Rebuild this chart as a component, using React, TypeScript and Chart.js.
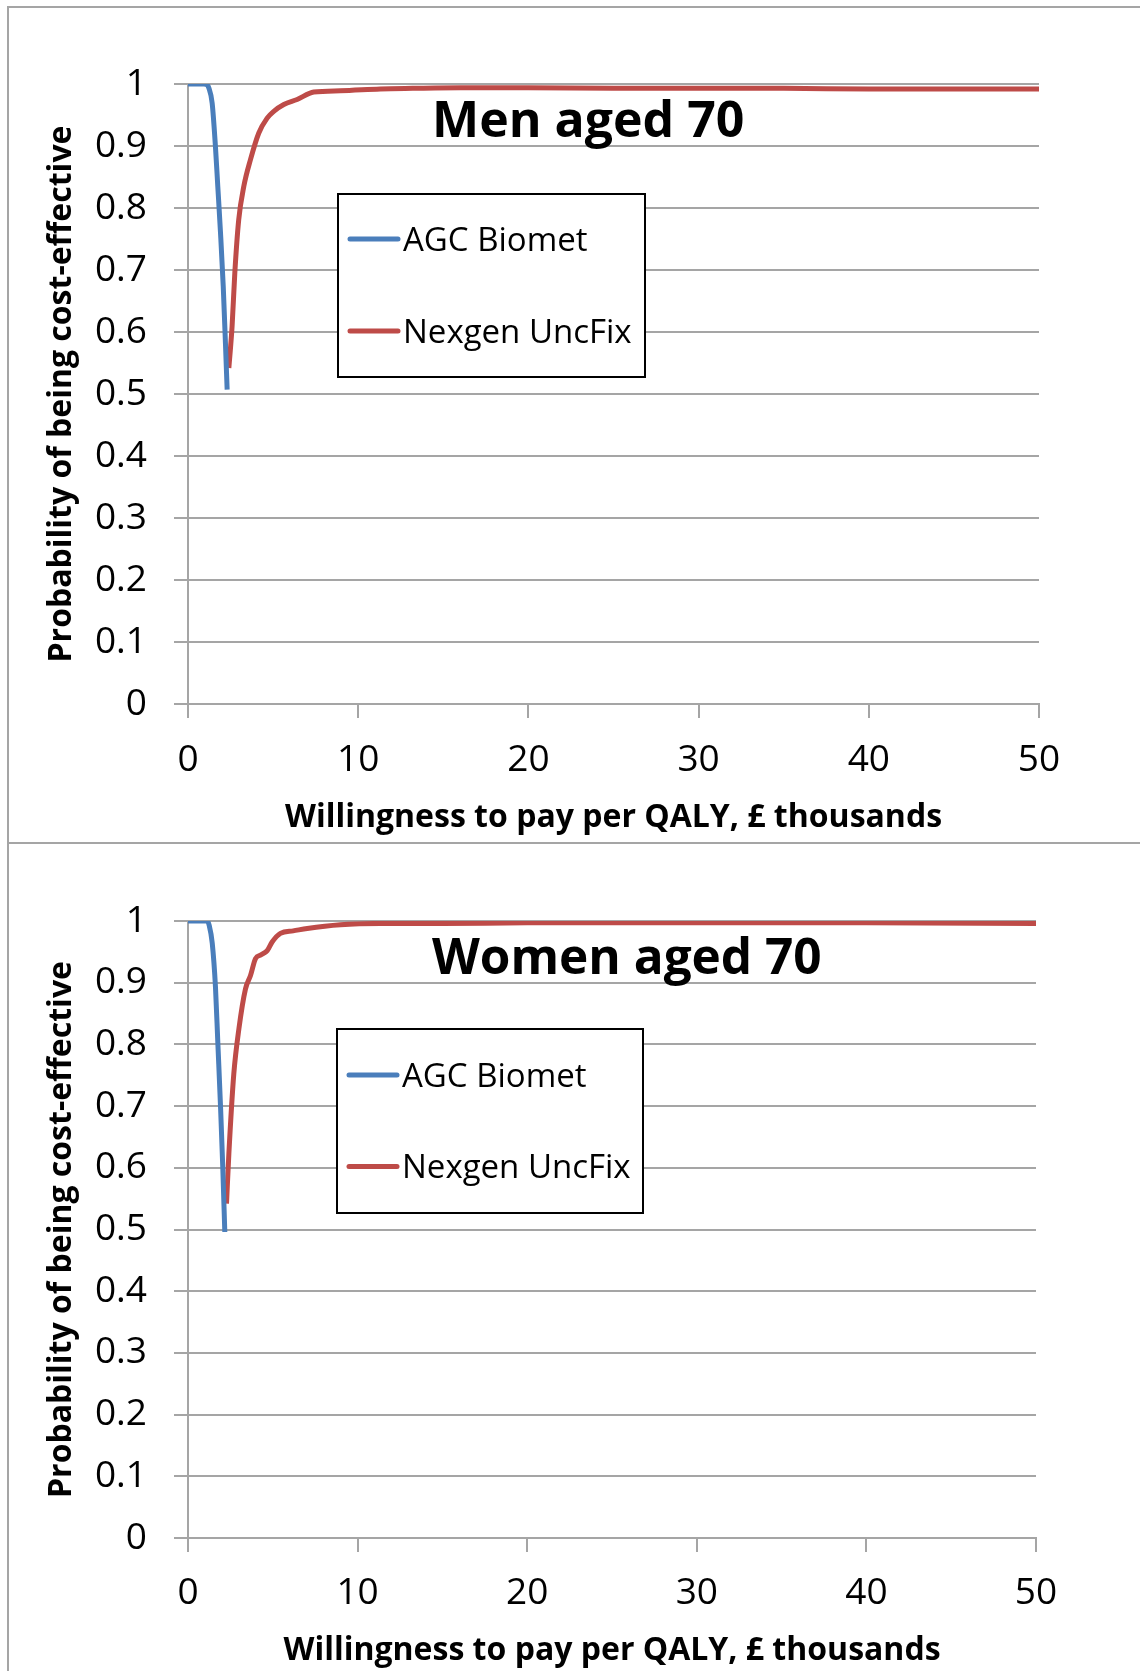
import { useEffect, useRef } from "react";
import { Chart, registerables } from "chart.js";

Chart.register(...registerables);

// ---------- data ----------
const xTicks = [0, 10, 20, 30, 40, 50];
const yTicks = [0, 0.1, 0.2, 0.3, 0.4, 0.5, 0.6, 0.7, 0.8, 0.9, 1];

const seriesNames = ["AGC Biomet", "Nexgen UncFix"];
const seriesColors = ["#4A7EBB", "#BE4B48"];

const xAxisTitle = "Willingness to pay per QALY, £ thousands";
const yAxisTitle = "Probability of being cost-effective";
const panelTitles = ["Men aged 70", "Women aged 70"];

// Men aged 70
const menAgcX = [0, 0.5, 0.93, 1.1, 1.22, 1.42, 1.61, 1.75, 1.91, 2.07, 2.2, 2.3];
const menAgcY = [1, 1, 1, 0.999, 0.994, 0.969, 0.9, 0.835, 0.76, 0.674, 0.582, 0.507];
const menNexX = [2.4, 2.59, 2.75, 2.98, 3.28, 3.67, 4.16, 4.65, 5.04, 5.63, 6.41, 7.39, 8.95, 11.3, 13.2, 16, 20, 25, 30, 35, 40, 45, 50];
const menNexY = [0.542, 0.609, 0.695, 0.781, 0.835, 0.878, 0.921, 0.945, 0.956, 0.967, 0.975, 0.987, 0.989, 0.992, 0.993, 0.994, 0.994, 0.993, 0.993, 0.993, 0.992, 0.992, 0.992];

// Women aged 70
const womenAgcX = [0, 0.5, 1.13, 1.25, 1.43, 1.62, 1.76, 1.92, 2.05, 2.17];
const womenAgcY = [1, 1, 1, 0.993, 0.964, 0.893, 0.802, 0.698, 0.601, 0.496];
const womenNexX = [2.27, 2.41, 2.7, 3.0, 3.39, 3.69, 3.98, 4.3, 4.67, 4.96, 5.45, 6.2, 7.03, 8.99, 11.35, 15, 20, 30, 40, 50];
const womenNexY = [0.542, 0.623, 0.752, 0.825, 0.89, 0.912, 0.939, 0.945, 0.952, 0.966, 0.98, 0.984, 0.988, 0.994, 0.996, 0.996, 0.997, 0.997, 0.997, 0.996];

// ---------- styling ----------
const FONT = '"Open Sans", "Noto Sans", sans-serif';
const GRID = "#a5a5a5";
const LINE_W = 5;

const overlayPlugin = {
  id: "overlay",
  afterDatasetsDraw(chart: any, _args: any, opts: any) {
    const ctx = chart.ctx as CanvasRenderingContext2D;
    ctx.save();
    // panel title
    ctx.fillStyle = "#000";
    ctx.textAlign = "left";
    ctx.textBaseline = "alphabetic";
    ctx.font = `bold ${opts.titleSize}px ${FONT}`;
    ctx.fillText(opts.title, opts.titleX, opts.titleY);
    // legend box
    const b = opts.box;
    ctx.fillStyle = "#fff";
    ctx.fillRect(b.x, b.y, b.w, b.h);
    ctx.strokeStyle = "#000";
    ctx.lineWidth = 2;
    ctx.strokeRect(b.x, b.y, b.w, b.h);
    chart.data.datasets.forEach((ds: any, i: number) => {
      const y = b.y + opts.rows[i];
      ctx.strokeStyle = ds.borderColor;
      ctx.lineWidth = LINE_W;
      ctx.lineCap = "round";
      ctx.beginPath();
      ctx.moveTo(b.x + 12, y);
      ctx.lineTo(b.x + 60, y);
      ctx.stroke();
      ctx.fillStyle = "#000";
      ctx.font = `33px ${FONT}`;
      ctx.fillText(ds.label, b.x + 65, y + 11.5);
    });
    ctx.restore();
  },
};

type PanelSpec = {
  agcX: number[];
  agcY: number[];
  nexX: number[];
  nexY: number[];
  title: string;
  titleX: number;
  titleY: number;
  titleSize: number;
  box: { x: number; y: number; w: number; h: number };
  rows: number[];
  padTop: number;
  padRight: number;
  xAxisHeight: number;
  xTickPad: number;
  xTitlePad: number;
};

function buildConfig(p: PanelSpec): any {
  const pts = (xs: number[], ys: number[]) => xs.map((x, i) => ({ x, y: ys[i] }));
  return {
    type: "line",
    data: {
      datasets: [
        {
          label: seriesNames[0],
          data: pts(p.agcX, p.agcY),
          borderColor: seriesColors[0],
          backgroundColor: seriesColors[0],
          borderWidth: LINE_W,
          pointRadius: 0,
          cubicInterpolationMode: "monotone",
          fill: false,
        },
        {
          label: seriesNames[1],
          data: pts(p.nexX, p.nexY),
          borderColor: seriesColors[1],
          backgroundColor: seriesColors[1],
          borderWidth: LINE_W,
          pointRadius: 0,
          cubicInterpolationMode: "monotone",
          fill: false,
        },
      ],
    },
    options: {
      responsive: false,
      animation: false,
      events: [],
      layout: { padding: { left: 0, right: p.padRight, top: p.padTop, bottom: 0 } },
      plugins: {
        legend: { display: false },
        tooltip: { enabled: false },
        overlay: {
          title: p.title,
          titleX: p.titleX,
          titleY: p.titleY,
          titleSize: p.titleSize,
          box: p.box,
          rows: p.rows,
        },
      },
      scales: {
        x: {
          type: "linear",
          min: 0,
          max: 50,
          afterBuildTicks: (s: any) => {
            s.ticks = xTicks.map((v) => ({ value: v }));
          },
          afterFit: (s: any) => {
            s.height = p.xAxisHeight;
          },
          grid: { drawOnChartArea: false, drawTicks: true, tickLength: 14, color: GRID, lineWidth: 2 },
          border: { display: true, color: GRID, width: 2 },
          ticks: { padding: p.xTickPad, color: "#000", maxRotation: 0, font: { family: FONT, size: 37 } },
          title: {
            display: true,
            text: xAxisTitle,
            color: "#000",
            font: { family: FONT, size: 32, weight: "bold" },
            padding: { top: 0, bottom: p.xTitlePad },
          },
        },
        y: {
          type: "linear",
          min: 0,
          max: 1,
          afterBuildTicks: (s: any) => {
            s.ticks = yTicks.map((v) => ({ value: v }));
          },
          afterFit: (s: any) => {
            s.width = 188;
          },
          grid: { drawOnChartArea: true, drawTicks: true, tickLength: 14, color: GRID, lineWidth: 2 },
          border: { display: true, color: GRID, width: 2 },
          ticks: {
            padding: 27,
            color: "#000",
            font: { family: FONT, size: 37 },
            callback: (v: number) => String(Math.round(v * 10) / 10),
          },
          title: {
            display: true,
            text: yAxisTitle,
            color: "#000",
            font: { family: FONT, size: 32, weight: "bold" },
            padding: { top: 43, bottom: 0 },
          },
        },
      },
    },
    plugins: [overlayPlugin],
  };
}

const menSpec: PanelSpec = {
  agcX: menAgcX,
  agcY: menAgcY,
  nexX: menNexX,
  nexY: menNexY,
  title: panelTitles[0],
  titleX: 432,
  titleY: 137,
  titleSize: 50,
  box: { x: 338, y: 194, w: 307, h: 183 },
  rows: [45, 137],
  padTop: 84,
  padRight: 1140 - 1039,
  xAxisHeight: 843 - 704,
  xTickPad: 20,
  xTitlePad: 6,
};

const womenSpec: PanelSpec = {
  agcX: womenAgcX,
  agcY: womenAgcY,
  nexX: womenNexX,
  nexY: womenNexY,
  title: panelTitles[1],
  titleX: 432,
  titleY: 974 - 843,
  titleSize: 49.5,
  box: { x: 337, y: 1029 - 843, w: 306, h: 184 },
  rows: [46, 137.5],
  padTop: 78,
  padRight: 1140 - 1036,
  xAxisHeight: 828 - 695,
  xTickPad: 19,
  xTitlePad: 0.5,
};

function ChartCanvas({ spec, top, height }: { spec: PanelSpec; top: number; height: number }) {
  const ref = useRef<HTMLCanvasElement>(null);
  useEffect(() => {
    if (!ref.current) return;
    const chart = new Chart(ref.current, buildConfig(spec));
    return () => chart.destroy();
  }, [spec]);
  return (
    <canvas
      ref={ref}
      width={1140}
      height={height}
      style={{ position: "absolute", left: 0, top, width: 1140, height, display: "block" }}
    />
  );
}

export default function App() {
  return (
    <div
      style={{
        position: "absolute",
        left: 0,
        top: 0,
        width: 1140,
        height: 1671,
        background: "#fff",
        overflow: "hidden",
      }}
    >
      <ChartCanvas spec={menSpec} top={0} height={843} />
      <ChartCanvas spec={womenSpec} top={843} height={828} />
      <div style={{ position: "absolute", left: 7, top: 6, width: 1133, height: 2, background: GRID }} />
      <div style={{ position: "absolute", left: 7, top: 842, width: 1133, height: 2, background: GRID }} />
      <div style={{ position: "absolute", left: 7, top: 6, width: 2, height: 1665, background: GRID }} />
    </div>
  );
}
